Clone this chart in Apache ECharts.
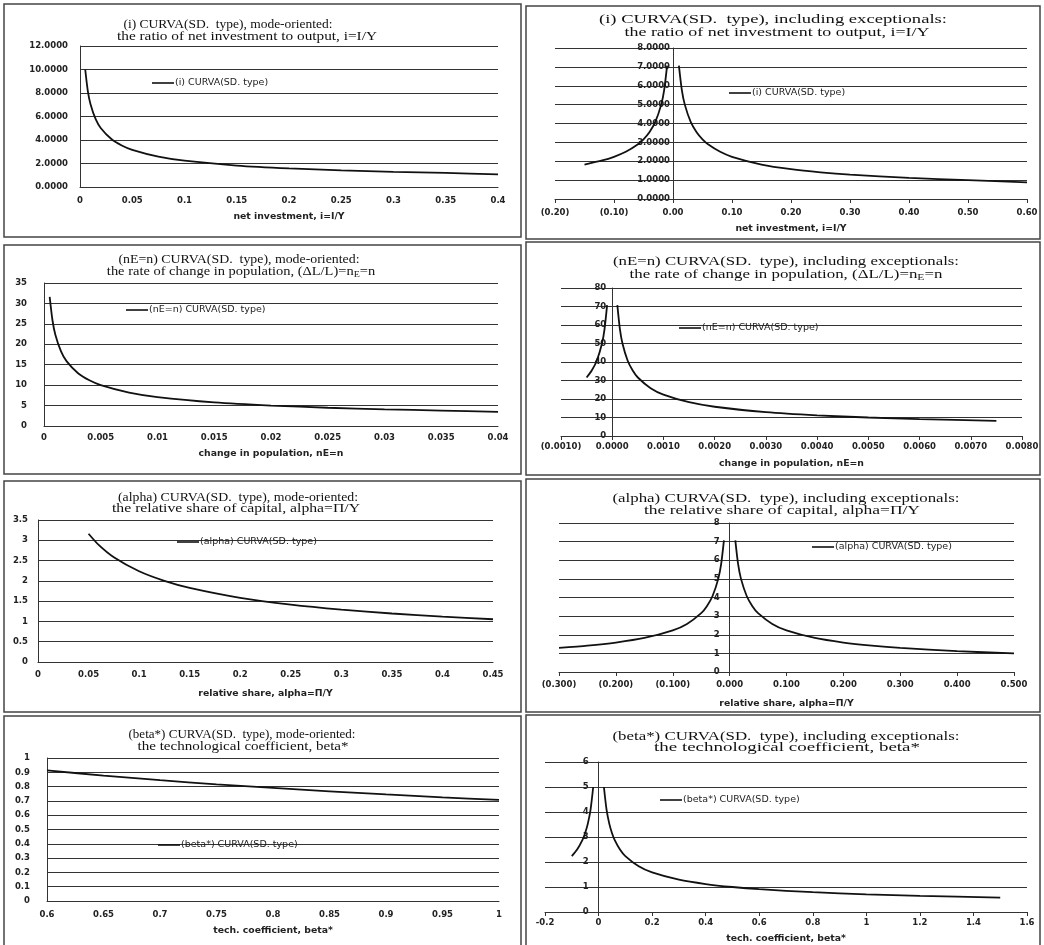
<!DOCTYPE html>
<html><head><meta charset="utf-8">
<script src="https://cdn.jsdelivr.net/npm/echarts@6/dist/echarts.min.js"></script>
<style>html,body{margin:0;padding:0;background:#fff}#c{width:1044px;height:945px}</style>
</head><body><div id="c"></div>
<script>
// ---- data ----
const p1X = [0.005,0.0075,0.01,0.015,0.02,0.03,0.04,0.05,0.075,0.1,0.15,0.2,0.25,0.3,0.35,0.4];
const p1Y = [10.0,8.165,7.071,5.774,5.0,4.082,3.536,3.162,2.582,2.236,1.826,1.581,1.414,1.291,1.195,1.08];

const p2X = [-0.15,-0.12,-0.1,-0.08,-0.06,-0.05,-0.04,-0.03,-0.02,-0.015,-0.01,null,0.01,0.015,0.02,0.03,0.04,0.05,0.06,0.08,0.1,0.15,0.2,0.25,0.3,0.4,0.5,0.6];
const p2Y = [1.826,2.041,2.236,2.5,2.887,3.162,3.536,4.082,5.0,5.774,7.071,null,7.071,5.774,5.0,4.082,3.536,3.162,2.887,2.5,2.236,1.826,1.581,1.414,1.291,1.118,1.0,0.88];

const p3X = [0.0005,0.00075,0.001,0.0015,0.002,0.003,0.004,0.005,0.0075,0.01,0.015,0.02,0.025,0.03,0.035,0.04];
const p3Y = [31.62,25.82,22.36,18.26,15.81,12.91,11.18,10.0,8.165,7.071,5.774,5.0,4.472,4.082,3.78,3.45];

const p4X = [-0.0005,-0.0004,-0.0003,-0.0002,-0.00015,-0.0001,null,0.0001,0.00015,0.0002,0.0003,0.0004,0.0005,0.00075,0.001,0.0015,0.002,0.003,0.004,0.005,0.006,0.0075];
const p4Y = [31.62,35.36,40.82,50.0,57.74,70.71,null,70.71,57.74,50.0,40.82,35.36,31.62,25.82,22.36,18.26,15.81,12.91,11.18,10.0,9.129,8.165];

const p5X = [0.05,0.06,0.075,0.1,0.125,0.15,0.2,0.25,0.3,0.35,0.4,0.45];
const p5Y = [3.162,2.887,2.582,2.236,2.0,1.826,1.581,1.414,1.291,1.195,1.118,1.054];

const p6X = [-0.3,-0.25,-0.2,-0.15,-0.1,-0.075,-0.05,-0.04,-0.03,-0.02,-0.015,-0.01,null,0.01,0.015,0.02,0.03,0.04,0.05,0.075,0.1,0.15,0.2,0.25,0.3,0.4,0.5];
const p6Y = [1.291,1.414,1.581,1.826,2.236,2.582,3.162,3.536,4.082,5.0,5.774,7.071,null,7.071,5.774,5.0,4.082,3.536,3.162,2.582,2.236,1.826,1.581,1.414,1.291,1.118,1.0];

const p7X = [0.6,0.65,0.7,0.75,0.8,0.85,0.9,0.95,1.0];
const p7Y = [0.913,0.877,0.845,0.816,0.791,0.767,0.745,0.725,0.707];

const p8X = [-0.1,-0.08,-0.06,-0.05,-0.04,-0.03,-0.02,null,0.02,0.03,0.04,0.05,0.06,0.08,0.1,0.15,0.2,0.3,0.4,0.5,0.6,0.8,1.0,1.2,1.5];
const p8Y = [2.236,2.5,2.887,3.162,3.536,4.082,5.0,null,5.0,4.082,3.536,3.162,2.887,2.5,2.236,1.826,1.581,1.291,1.118,1.0,0.913,0.791,0.707,0.645,0.577];

// axis ranges [min, max, interval]
const xRanges = [[0,0.4,0.05],[-0.2,0.6,0.1],[0,0.04,0.005],[-0.001,0.008,0.001],[0,0.45,0.05],[-0.3,0.5,0.1],[0.6,1,0.05],[-0.2,1.6,0.2]];
const yRanges = [[0,12,2],[0,8,1],[0,35,5],[0,80,10],[0,3.5,0.5],[0,8,1],[0,1,0.1],[0,6,1]];

const seriesNames = ['(i) CURVA(SD. type)','(i) CURVA(SD. type)','(nE=n) CURVA(SD. type)','(nE=n) CURVA(SD. type)','(alpha) CURVA(SD. type)','(alpha) CURVA(SD. type)','(beta*) CURVA(SD. type)','(beta*) CURVA(SD. type)'];
const titleLine1 = [
  '(i) CURVA(SD.  type), mode-oriented:',
  '(i) CURVA(SD.  type), including exceptionals:',
  '(nE=n) CURVA(SD.  type), mode-oriented:',
  '(nE=n) CURVA(SD.  type), including exceptionals:',
  '(alpha) CURVA(SD.  type), mode-oriented:',
  '(alpha) CURVA(SD.  type), including exceptionals:',
  '(beta*) CURVA(SD.  type), mode-oriented:',
  '(beta*) CURVA(SD.  type), including exceptionals:'
];
const titleLine2 = [
  'the ratio of net investment to output, i=I/Y',
  'the ratio of net investment to output, i=I/Y',
  'the rate of change in population, (ΔL/L)=n{sub|E}=n',
  'the rate of change in population, (ΔL/L)=n{sub|E}=n',
  'the relative share of capital, alpha=Π/Y',
  'the relative share of capital, alpha=Π/Y',
  'the technological coefficient, beta*',
  'the technological coefficient, beta*'
];
const axisNames = ['net investment, i=I/Y','net investment, i=I/Y','change in population, nE=n','change in population, nE=n','relative share, alpha=Π/Y','relative share, alpha=Π/Y','tech. coefficient, beta*','tech. coefficient, beta*'];

const xs = [p1X,p2X,p3X,p4X,p5X,p6X,p7X,p8X];
const ys = [p1Y,p2Y,p3Y,p4Y,p5Y,p6Y,p7Y,p8Y];

// ---- layout ----
const grids = [
  {left:80, top:46, width:418, height:141},
  {left:555, top:48, width:472, height:151},
  {left:44, top:283, width:454, height:143},
  {left:561, top:288, width:461, height:148},
  {left:38, top:520, width:455, height:142},
  {left:559, top:523, width:455, height:149},
  {left:47, top:758, width:452, height:143},
  {left:545, top:762, width:482, height:150}
];
const boxes = [
  [4,4,517,233],[526,6,514,233],
  [4,245,517,229],[526,242,514,233],
  [4,481,517,231],[526,479,514,233],
  [4,716,517,240],[526,715,514,240]
];
// title lines: [centerX, centerY, targetWidth]
const t1Pos = [[228,25,209],[773,20,348],[239,260,241],[786,262,346],[238,498,240],[786,499,347],[242,735,227],[786,737,347]];
const t2Pos = [[247,37,260],[777,33,305],[241,272,271],[786,275,316],[236,509,248],[782,511,276],[243,747,211],[787,748,266]];
const legendPos = [[152,84],[729,94],[126,311],[679,329],[177,543],[812,548],[158,846],[660,801]];
const nameGaps = [25,25,23,23,27,27,25,22];
const labelMargins = [[9,12],[9,3],[7,17],[6,6],[8,10],[8,10],[9,17],[6,10]];

const yFmt = [v=>v.toFixed(4), v=>v.toFixed(4), null, null, null, null, null, null];
function paren(d){ return v => { const a = Math.abs(v).toFixed(d); return v < -1e-12 ? '(' + a + ')' : a; }; }
const xFmt = [null, paren(2), null, paren(4), null, paren(3), null, null];

const tickFont = {fontFamily:'DejaVu Sans', fontSize:8.5, fontWeight:'bold', color:'#222'};
const TITLE_FONT = 'normal 13px "Liberation Serif"';
const mctx = document.createElement('canvas').getContext('2d');
function textWidth(s){ mctx.font = TITLE_FONT; return mctx.measureText(s.replace(/\{sub\|([^}]*)\}/g,'$1')).width; }

const option = {
  animation:false,
  backgroundColor:'#fff',
  legend:[], grid:[], xAxis:[], yAxis:[], series:[],
  graphic: boxes.map(b => ({type:'rect', shape:{x:b[0],y:b[1],width:b[2],height:b[3]}, style:{fill:'none', stroke:'#444', lineWidth:1.5}, z:-1}))
};

function titleText(str, pos){
  return {
    type:'text', x:pos[0], y:pos[1], scaleX:pos[2]/textWidth(str), z:10,
    style:{text:str, x:0, y:0, align:'center', verticalAlign:'middle', font:TITLE_FONT, fill:'#111',
      rich:{sub:{fontFamily:'Liberation Serif', fontSize:9, fill:'#111', padding:[6,0,0,0]}}}
  };
}

for (let i = 0; i < 8; i++) {
  const right = i % 2 === 1;
  option.grid.push(Object.assign({containLabel:false}, grids[i]));
  option.graphic.push(titleText(titleLine1[i], t1Pos[i]));
  option.graphic.push(titleText(titleLine2[i], t2Pos[i]));
  option.legend.push({
    data:[seriesNames[i]], left:legendPos[i][0], top:legendPos[i][1]-6,
    icon:'rect', itemWidth:22, itemHeight:1.6, padding:0, selectedMode:false,
    textStyle:{fontFamily:'DejaVu Sans', fontSize:9.5, color:'#222', padding:[0,0,0,-4]}
  });
  const xr = xRanges[i], yr = yRanges[i];
  const g = grids[i];
  const yOffset = right ? -(0 - xr[0]) / (xr[1] - xr[0]) * g.width : 0;
  option.xAxis.push({
    type:'value', gridIndex:i, min:xr[0], max:xr[1], interval:xr[2],
    name: axisNames[i], nameLocation:'middle', nameGap:nameGaps[i],
    nameTextStyle:{fontFamily:'DejaVu Sans', fontSize:9.3, fontWeight:'bold', color:'#222'},
    axisLine:{show:true, onZero:false, lineStyle:{color:'#333', width:1}},
    axisTick:{show:right, length:4, lineStyle:{color:'#333'}},
    splitLine:{show:false},
    axisLabel:Object.assign({margin:labelMargins[i][0], showMinLabel:true, showMaxLabel:true, formatter:xFmt[i]||undefined}, tickFont)
  });
  option.yAxis.push({
    type:'value', gridIndex:i, min:yr[0], max:yr[1], interval:yr[2], offset:yOffset,
    axisLine:{show:true, onZero:false, lineStyle:{color:'#333', width:1}},
    axisTick:{show:false},
    splitLine:{show:true, lineStyle:{color:'#333', width:1}},
    axisLabel:Object.assign({margin:labelMargins[i][1], showMinLabel:true, showMaxLabel:true, formatter:yFmt[i]||undefined}, tickFont)
  });
  const pts = xs[i].map((x, k) => x === null ? ['-','-'] : [x, ys[i][k]]);
  option.series.push({
    type:'line', name:seriesNames[i], xAxisIndex:i, yAxisIndex:i, data:pts,
    symbol:'none', smooth:0.25, connectNulls:false,
    lineStyle:{color:'#111', width:1.8}, itemStyle:{color:'#111'}
  });
}

const chart = echarts.init(document.getElementById('c'), null, {renderer:'canvas'});
chart.setOption(option);
</script>
</body></html>
